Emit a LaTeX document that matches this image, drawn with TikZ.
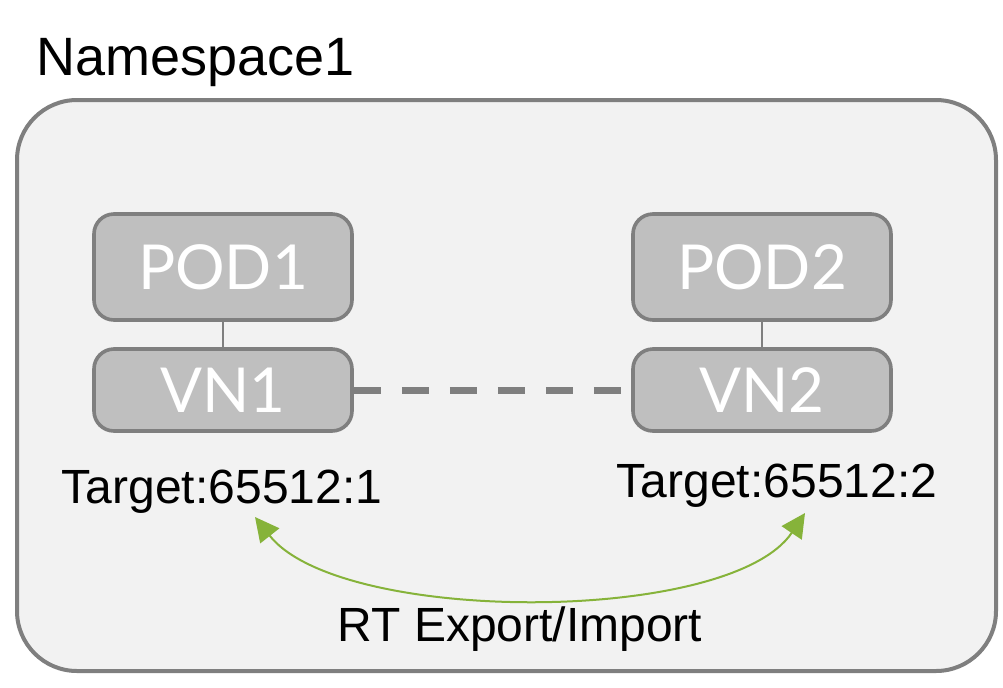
\documentclass[tikz,border=0pt]{standalone}
\usepackage{fontspec}
\setmainfont{Liberation Sans}
\newfontfamily\boxfont{Lato}
\usetikzlibrary{arrows.meta}

\definecolor{nsfill}{HTML}{F2F2F2}
\definecolor{nsline}{HTML}{7F7F7F}
\definecolor{boxfill}{HTML}{BFBFBF}
\definecolor{rtgreen}{HTML}{86B33A}

\tikzset{
    podbox/.style={draw=nsline, line width=1.8pt, fill=boxfill, rounded corners=10pt,
        minimum width=129pt, minimum height=53pt, text=white, font=\boxfont\fontsize{31}{31}\selectfont},
    vnbox/.style={podbox, minimum height=41pt},
    target/.style={anchor=base, font=\fontsize{24}{24}\selectfont},
    rtarrow/.style={{Triangle[length=12pt,width=12pt]}-{Triangle[length=12pt,width=12pt]}, draw=rtgreen, line width=1pt}
}

\begin{document}
\begin{tikzpicture}[x=0.5pt, y=-0.5pt]
    \useasboundingbox (0, 0) rectangle (1003, 687);

    % Namespace
    \draw[nsline, fill=nsfill, line width=2pt, rounded corners=30pt] (17, 100) rectangle (996, 671);
    \node[anchor=base west, font=\fontsize{27}{27}\selectfont] (ns) at (29, 75) {Namespace1};

    % Pods and networks
    \node[podbox] (pod1) at (223, 267) {POD1};
    \node[vnbox] (vn1) at (223, 390) {VN1};
    \node[podbox] (pod2) at (762, 267) {POD2};
    \node[vnbox] (vn2) at (762, 390) {VN2};

    \draw[nsline, line width=0.75pt] (pod1) -- (vn1);
    \draw[nsline, line width=0.75pt] (pod2) -- (vn2);
    \draw[nsline, line width=3.5pt, dash pattern=on 13.5pt off 10.5pt] (vn1.east) -- ([xshift=-5pt]vn2.west);

    % Targets
    \node[target] (t1) at (222, 503) {Target:65512:1};
    \node[target] (t2) at (777, 497) {Target:65512:2};

    % Export/Import
    \coordinate (rt1) at (255, 517);
    \coordinate (rt2) at (805, 513);
    \draw[rtarrow] (rt1) .. controls (340, 625) and (730, 625) .. (rt2);
    \node[target] (rt) at (520, 641) {RT Export/Import};
\end{tikzpicture}
\end{document}
